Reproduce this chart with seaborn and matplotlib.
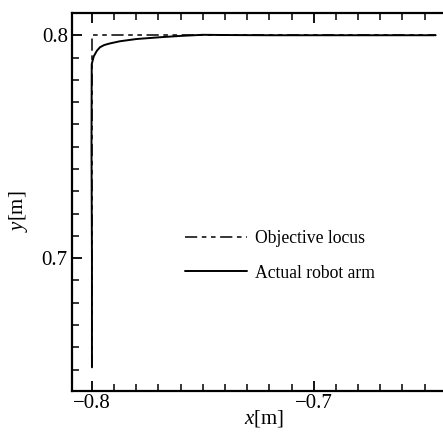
import matplotlib
matplotlib.use("Agg")
import matplotlib.pyplot as plt
import seaborn as sns
import numpy as np
from matplotlib.ticker import MultipleLocator

# Data
objective_x = [-0.8, -0.8, -0.645]
objective_y = [0.651, 0.8, 0.8]

actual_x = [-0.8, -0.8, -0.8002, -0.8001, -0.7992, -0.7978, -0.7964, -0.7945, -0.792,
            -0.7874, -0.78, -0.7694, -0.76, -0.75, -0.74, -0.72, -0.70, -0.645]
actual_y = [0.651, 0.70, 0.75, 0.787, 0.7905, 0.7930, 0.7946, 0.7956, 0.7963,
            0.7973, 0.7983, 0.7991, 0.7997, 0.8002, 0.8001, 0.8, 0.8, 0.8]

x_ticks = [-0.8, -0.7]
x_ticklabels = ["\u22120.8", "\u22120.7"]
y_ticks = [0.7, 0.8]
y_ticklabels = ["0.7", "0.8"]

sns.set_theme(style="white")
plt.rcParams['font.family'] = ['Liberation Serif', 'DejaVu Serif']
plt.rcParams['mathtext.fontset'] = 'custom'
plt.rcParams['mathtext.it'] = 'Liberation Serif:italic'
plt.rcParams['mathtext.rm'] = 'Liberation Serif'

fig = plt.figure(figsize=(4.43, 4.32), dpi=100)
ax = fig.add_axes([0.1625, 0.095, 0.896, 0.875])

sns.lineplot(x=objective_x, y=objective_y, sort=False, estimator=None, ax=ax,
             color="black", linewidth=1.1, linestyle=(0, (8, 3, 3, 3, 3, 3)),
             label="Objective locus")
sns.lineplot(x=actual_x, y=actual_y, sort=False, estimator=None, ax=ax,
             color="black", linewidth=1.4, label="Actual robot arm")

ax.set_xlim(-0.809, -0.63)
ax.set_ylim(0.6404, 0.81)

ax.set_xticks(x_ticks)
ax.set_xticklabels(x_ticklabels)
ax.set_yticks(y_ticks)
ax.set_yticklabels(y_ticklabels)
ax.xaxis.set_minor_locator(MultipleLocator(0.01))
ax.yaxis.set_minor_locator(MultipleLocator(0.01))
ax.tick_params(which="both", direction="in", top=True, right=True,
               bottom=True, left=True, colors="black", labelsize=15, pad=3)
ax.tick_params(axis="x", which="both", pad=2)
ax.tick_params(which="major", length=7, width=1.3)
ax.tick_params(which="minor", length=5, width=1.1)

for s in ax.spines.values():
    s.set_color("black")
    s.set_linewidth(1.6)

ax.set_xlabel(r"$x$[m]", fontsize=15, color="black")
ax.set_ylabel(r"$y$[m]", fontsize=15, color="black")
ax.xaxis.set_label_coords((264 - 72) / 397, -0.045)
ax.yaxis.set_label_coords(-0.106, (391 - 211) / 378)

leg = ax.legend(loc="upper left", bbox_to_anchor=(0.245, 0.468), frameon=False,
                fontsize=12.7, handlelength=3.5, labelspacing=1.0, handletextpad=0.45)
for t in leg.get_texts():
    t.set_color("black")

fig.savefig("out.png", dpi=100)
